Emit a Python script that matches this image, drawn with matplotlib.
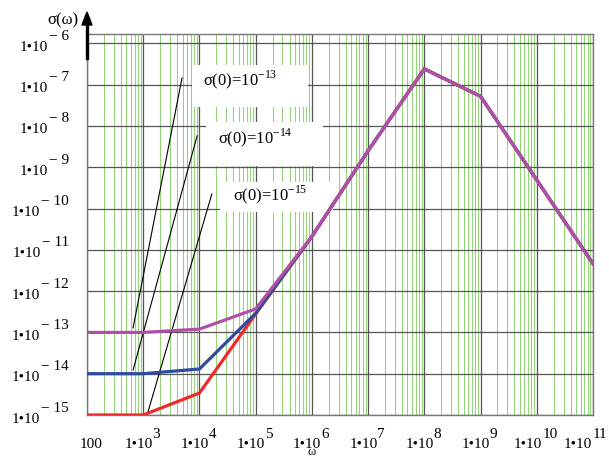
import numpy as np
import matplotlib
matplotlib.use("Agg")
import matplotlib.pyplot as plt
from matplotlib import font_manager
from matplotlib.ticker import LogLocator, NullFormatter
from matplotlib.patches import Rectangle, Polygon
from matplotlib.lines import Line2D
from matplotlib.transforms import blended_transform_factory, offset_copy

# ---------------- data ----------------
omega_low = [1e2, 1e3, 1e4, 1e5]
sigma_red_low = [1e-15, 1e-15, 3.4e-15, 2.8e-13]
sigma_blue_low = [1e-14, 1e-14, 1.3e-14, 2.9e-13]
sigma_purple_low = [1e-13, 1e-13, 1.2e-13, 3.7e-13]

omega_tail = [1e6, 1e7, 1e8, 1e9, 1e11]
sigma_tail = [2.1e-11, 2.5e-9, 2.4e-7, 5.2e-8, 4.6e-12]

# slope guide lines (start, end)
guide_omega = [(660, 4900), (660, 9100), (1170, 16600)]
guide_sigma = [(1.29e-13, 1.45e-7), (1.23e-14, 5.75e-9), (1e-15, 2.24e-10)]

labels = ["-13", "-14", "-15"]
x_exps = list(range(2, 12))
y_exps = list(range(-15, -5))

# ---------------- figure ----------------
W, H = 609, 459
fig = plt.figure(figsize=(W / 100, H / 100), dpi=100)
fig.patch.set_facecolor("white")

try:
    font_manager.findfont("Liberation Serif", fallback_to_default=False)
    serif = ["Liberation Serif", "DejaVu Serif"]
except Exception:
    serif = ["DejaVu Serif"]

def fx(px):
    return px / W

def fy(py):
    return 1 - py / H

ax = fig.add_axes([fx(87), fy(415), (593 - 87) / W, (415 - 34) / H])
ax.set_xscale("log")
ax.set_yscale("log")
ax.set_xlim(1e2, 1e11)
ax.set_ylim(1e-15, 10 ** (-15 + 381 / 41.3))

ax.set_xticks([10.0 ** e for e in x_exps])
ax.set_yticks([10.0 ** e for e in y_exps])
ax.xaxis.set_minor_locator(LogLocator(base=10, subs=np.arange(2, 10), numticks=50))
ax.yaxis.set_minor_locator(plt.NullLocator())
ax.xaxis.set_major_formatter(NullFormatter())
ax.xaxis.set_minor_formatter(NullFormatter())
ax.yaxis.set_major_formatter(NullFormatter())
ax.tick_params(which="both", length=0)
ax.set_axisbelow(True)
ax.grid(True, which="minor", axis="x", color="#96d47b", lw=0.8)
ax.grid(True, which="major", axis="both", color="#555555", lw=0.9)
for s in ax.spines.values():
    s.set_color("#777777")
    s.set_linewidth(1.0)

# white label boxes (hide grid)
boxes = [(192, 65, 308, 107), (206, 122, 323, 166), (220, 182, 333, 212)]
for (x0, y0, x1, y1) in boxes:
    ax.add_patch(Rectangle((fx(x0), fy(y1)), fx(x1) - fx(x0), (y1 - y0) / H,
                           transform=fig.transFigure, facecolor="white",
                           edgecolor="none", zorder=1))

# guide lines
for (xa, xb), (ya, yb) in zip(guide_omega, guide_sigma):
    ax.plot([xa, xb], [ya, yb], color="black", lw=0.8, zorder=2)

# curves
ax.plot(omega_low + omega_tail, sigma_red_low + sigma_tail, color="#ee2a2a",
        lw=2.3, zorder=3, solid_joinstyle="miter")
ax.plot(omega_low + omega_tail, sigma_blue_low + sigma_tail, color="#2f4b9e",
        lw=2.3, zorder=4, solid_joinstyle="miter")
ax.plot(omega_low + omega_tail, sigma_purple_low + sigma_tail, color="#b04fa5",
        lw=2.3, zorder=5, solid_joinstyle="miter")

# in-plot labels
label_pos = [(203, 80), (218, 138), (233, 195)]
for (px, py), lab in zip(label_pos, labels):
    fig.text(fx(px), fy(py), "σ(0)=10$^{\\mathregular{%s}}$" % lab,
             family=serif, fontsize=12, ha="left", va="center", zorder=6)

# y tick labels
ytr = blended_transform_factory(fig.transFigure, ax.transData)
fig.canvas.draw()
renderer = fig.canvas.get_renderer()
for e in y_exps:
    t_exp = fig.text(fx(69), 10.0 ** e, "− %d" % abs(e), family=serif, fontsize=11,
                     ha="right", va="center",
                     transform=offset_copy(ytr, fig=fig, x=0, y=7, units="dots"))
    bb = t_exp.get_window_extent(renderer)
    fig.text((bb.x0 - 1) / W, 10.0 ** e, "1•10", family=serif, fontsize=11,
             ha="right", va="center",
             transform=offset_copy(ytr, fig=fig, x=0, y=-4, units="dots"))

# x tick labels
xtr = blended_transform_factory(ax.transData, fig.transFigure)
for e in x_exps:
    if e == 2:
        fig.text(100, fy(445), "100", family=serif, fontsize=11, ha="center",
                 va="center", transform=offset_copy(xtr, fig=fig, x=4, y=0, units="dots"))
        continue
    tb = fig.text(0, 0, "1•10", family=serif, fontsize=11)
    te = fig.text(0, 0, "%d" % e, family=serif, fontsize=11)
    wb = tb.get_window_extent(renderer).width
    we = te.get_window_extent(renderer).width
    tb.remove(); te.remove()
    gx = ax.transData.transform((10.0 ** e, 1e-15))[0]
    left = gx - (wb + we) / 2 - 1
    if left + wb + we > W - 2:
        left = W - 2 - wb - we
    fig.text(left / W, fy(445), "1•10", family=serif, fontsize=11, ha="left", va="center")
    fig.text((left + wb) / W, fy(434), "%d" % e, family=serif, fontsize=11,
             ha="left", va="center")

# axis labels and arrow
fig.text(fx(63), fy(20), "σ(ω)", family=serif, fontsize=12, ha="center", va="center")
fig.add_artist(Line2D([fx(87), fx(87)], [fy(58), fy(24)], color="black", lw=2.4,
                      transform=fig.transFigure))
fig.add_artist(Polygon([(fx(82), fy(25)), (fx(92), fy(25)), (fx(87), fy(12))],
                       closed=True, facecolor="black", edgecolor="black",
                       transform=fig.transFigure))
fig.text(fx(312), fy(458), "ω", family=serif, fontsize=9, ha="center", va="bottom")

fig.savefig("out.png", dpi=100, facecolor="white")
